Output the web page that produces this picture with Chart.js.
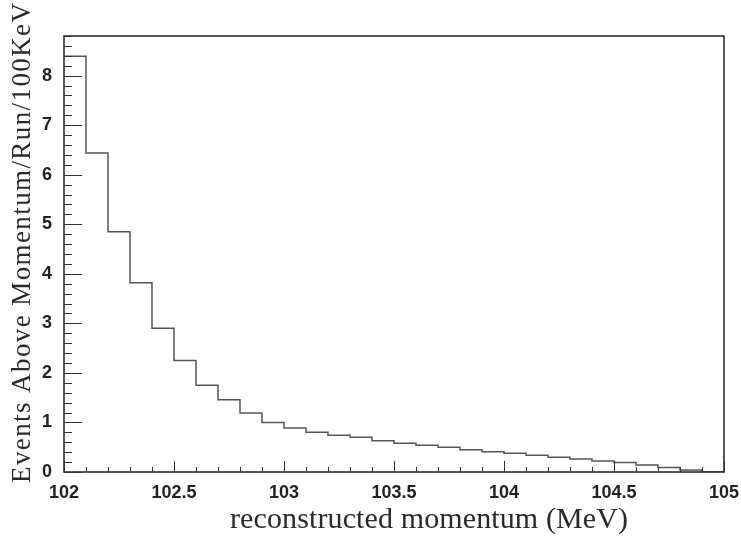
<html>
<head>
<meta charset="UTF-8">
<title>Events Above Momentum</title>
<style>
body {
    margin: 0;
    padding: 0;
    background: white;
}
div.main {
    width: 741px;
    height: 538px;
}
</style>
<script src="https://cdn.jsdelivr.net/npm/chart.js@4.4.1/dist/chart.umd.min.js"></script>
</head>
<body>
<div class="main">
<canvas id="canvas" width="741" height="538"></canvas>
</div>
</body>
<script>
// left edge of each 100 keV bin (MeV)
const binStart = [102.0, 102.1, 102.2, 102.3, 102.4, 102.5, 102.6, 102.7, 102.8, 102.9,
                  103.0, 103.1, 103.2, 103.3, 103.4, 103.5, 103.6, 103.7, 103.8, 103.9,
                  104.0, 104.1, 104.2, 104.3, 104.4, 104.5, 104.6, 104.7, 104.8, 104.9]
// events above momentum per run per 100 keV
const events = [8.39, 6.44, 4.85, 3.82, 2.90, 2.25, 1.75, 1.46, 1.19, 1.00,
                0.89, 0.80, 0.74, 0.70, 0.63, 0.58, 0.54, 0.50, 0.45, 0.41,
                0.38, 0.34, 0.30, 0.26, 0.22, 0.19, 0.14, 0.09, 0.04, 0.00]
const xTicks = [102, 102.5, 103, 103.5, 104, 104.5, 105]
const yTicks = [0, 1, 2, 3, 4, 5, 6, 7, 8]
const xTitle = "reconstructed momentum (MeV)"
const yTitle = "Events Above Momentum/Run/100KeV"

// each bin's value holds up to the next edge, so the last bin is closed at 105
const points = binStart.map((x, i) => ({x: x, y: events[i]}))
points.push({x: 105, y: events[events.length - 1]})

const tickFont = {family: "'Liberation Sans', Arial, sans-serif", weight: "bold", size: 18}

// white background, frame, inward ticks and the two serif titles
const frame = {
    id: "frame",
    beforeDraw(chart) {
        const ctx = chart.ctx
        ctx.save()
        ctx.fillStyle = "white"
        ctx.fillRect(0, 0, chart.width, chart.height)
        ctx.restore()
    },
    afterDraw(chart) {
        const ctx = chart.ctx
        const a = chart.chartArea
        const xs = chart.scales.x
        const ys = chart.scales.y
        ctx.save()
        ctx.strokeStyle = "#222"
        ctx.lineWidth = 1.5
        ctx.strokeRect(a.left, a.top, a.right - a.left, a.bottom - a.top)

        ctx.lineWidth = 1
        ctx.strokeStyle = "#333"
        ctx.beginPath()
        for (let i = 0; i <= 30; ++i) {
            const v = 102 + i / 10
            const px = Math.round(xs.getPixelForValue(v)) + 0.5
            const len = i % 5 === 0 ? 11 : 5
            ctx.moveTo(px, a.bottom)
            ctx.lineTo(px, a.bottom - len)
        }
        for (let i = 0; i <= 44; ++i) {
            const v = i / 5
            const py = Math.round(ys.getPixelForValue(v)) + 0.5
            const len = i % 5 === 0 ? 18 : 8
            ctx.moveTo(a.left, py)
            ctx.lineTo(a.left + len, py)
        }
        ctx.stroke()

        ctx.fillStyle = "#2a2a2a"
        ctx.textAlign = "left"
        ctx.textBaseline = "alphabetic"
        ctx.font = "30px 'Liberation Serif', 'Times New Roman', serif"
        ctx.letterSpacing = "0px"
        let w = ctx.measureText(xTitle).width
        ctx.letterSpacing = ((398 - w) / (xTitle.length - 1)) + "px"
        ctx.fillText(xTitle, 230, 528)

        ctx.font = "27px 'Liberation Serif', 'Times New Roman', serif"
        ctx.letterSpacing = "0px"
        w = ctx.measureText(yTitle).width
        ctx.letterSpacing = ((480 - w) / (yTitle.length - 1)) + "px"
        ctx.translate(30, 483)
        ctx.rotate(-Math.PI / 2)
        ctx.fillText(yTitle, 0, 0)
        ctx.restore()
    },
}

const ctx = document.getElementById("canvas").getContext("2d")
const chart = new Chart(ctx, {
    type: "line",
    data: {
        datasets: [{
            data: points,
            stepped: "before",
            borderColor: "#555",
            borderWidth: 1.5,
            pointRadius: 0,
            fill: false,
        }],
    },
    options: {
        responsive: false,
        animation: false,
        layout: {padding: {left: 0, top: 36, right: 17, bottom: 0}},
        plugins: {legend: {display: false}, tooltip: {enabled: false}},
        scales: {
            x: {
                type: "linear",
                min: 102,
                max: 105,
                afterBuildTicks: (scale) => { scale.ticks = xTicks.map(v => ({value: v})) },
                afterFit: (scale) => { scale.height = 66 },
                grid: {display: false},
                border: {display: false},
                ticks: {
                    font: tickFont,
                    color: "#222",
                    padding: 2,
                    maxRotation: 0,
                    callback: (value) => String(value),
                },
            },
            y: {
                min: 0,
                max: 8.8,
                afterBuildTicks: (scale) => { scale.ticks = yTicks.map(v => ({value: v})) },
                afterFit: (scale) => { scale.width = 64 },
                grid: {display: false},
                border: {display: false},
                ticks: {
                    font: tickFont,
                    color: "#222",
                    padding: 4,
                    callback: (value) => String(value),
                },
            },
        },
    },
    plugins: [frame],
})
</script>
</html>
